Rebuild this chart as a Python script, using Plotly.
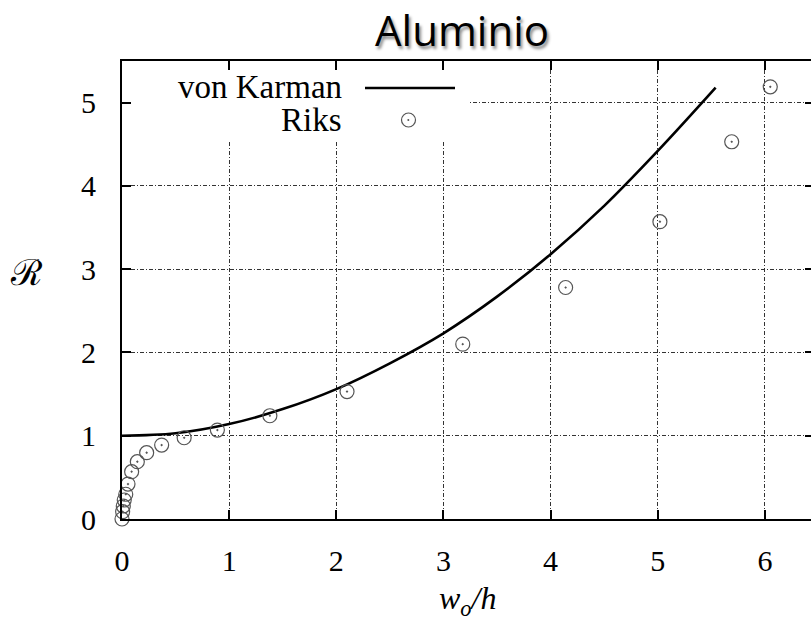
import plotly.graph_objects as go

# von Karman solution curve (R versus w_o/h)
karman_x = [0.0, 0.5, 1.0, 1.5, 2.0, 2.5, 3.0, 3.5, 4.0, 4.5, 5.0, 5.54]
karman_y = [1.0, 1.03, 1.14, 1.32, 1.56, 1.87, 2.23, 2.67, 3.18, 3.76, 4.42, 5.18]

# Riks path-following results
riks_x = [0.0, 0.006, 0.012, 0.021, 0.035, 0.056, 0.09, 0.143, 0.23, 0.37,
          0.58, 0.89, 1.38, 2.10, 3.18, 4.14, 5.02, 5.69, 6.05]
riks_y = [0.0, 0.088, 0.156, 0.228, 0.297, 0.42, 0.568, 0.688, 0.796, 0.888,
          0.976, 1.068, 1.24, 1.53, 2.10, 2.78, 3.57, 4.53, 5.19]

x_ticks = [0, 1, 2, 3, 4, 5, 6]
y_ticks = [0, 1, 2, 3, 4, 5]
X_RANGE = [0, 6.43]
Y_RANGE = [0, 5.5]

W, H = 811, 620
L, R, T, B = 122, 0, 61, 101
PW, PH = W - L - R, H - T - B


def px(xp):
    return (xp - L) / PW


def py(yp):
    return (H - B - yp) / PH


def dx(xp):
    return X_RANGE[0] + px(xp) * (X_RANGE[1] - X_RANGE[0])


def dy(yp):
    return Y_RANGE[0] + py(yp) * (Y_RANGE[1] - Y_RANGE[0])


SERIF = "'Liberation Serif', 'Times New Roman', Times, serif"
GRID = "#333333"

fig = go.Figure()

fig.add_trace(go.Scatter(
    x=karman_x, y=karman_y, mode="lines", name="von Karman",
    line=dict(color="black", width=2.6, shape="spline", smoothing=1.0),
    showlegend=False,
))
fig.add_trace(go.Scatter(
    x=riks_x, y=riks_y, mode="markers", name="Riks",
    marker=dict(symbol="circle-open-dot", size=14, color="#555555",
                line=dict(width=1.2, color="#555555")),
    cliponaxis=False, showlegend=False,
))
# right-hand tick marks
fig.add_trace(go.Scatter(x=[None], y=[None], yaxis="y2", showlegend=False,
                         hoverinfo="skip"))

axis_common = dict(
    showline=True, linecolor="black", linewidth=2,
    ticks="inside", ticklen=9, tickwidth=1.6, tickcolor="black",
    showgrid=True, gridcolor=GRID, gridwidth=1, griddash="4px,2px,1px,2px",
    zeroline=False,
    tickfont=dict(family=SERIF, size=30, color="black"),
)

fig.update_layout(
    width=W, height=H, autosize=False,
    margin=dict(l=L, r=R, t=T, b=B),
    paper_bgcolor="white", plot_bgcolor="white",
    xaxis=dict(range=X_RANGE, tickvals=x_ticks, mirror="ticks",
               ticklabelstandoff=14, **axis_common),
    yaxis=dict(range=Y_RANGE, tickvals=y_ticks, mirror=False,
               ticklabelstandoff=18, **axis_common),
    yaxis2=dict(range=Y_RANGE, tickvals=y_ticks, overlaying="y", side="right",
                ticks="inside", ticklen=6, tickwidth=1.6, tickcolor="black",
                showticklabels=False, showgrid=False, showline=False,
                zeroline=False),
)

# legend panel, laid over the grid but under the data
fig.add_shape(type="rect", xref="x", yref="y", layer="between",
              x0=dx(124), x1=dx(470), y0=dy(140), y1=dy(62),
              fillcolor="white", line=dict(width=0))
fig.add_shape(type="line", xref="paper", yref="paper",
              x0=px(365), x1=px(455), y0=py(88), y1=py(88),
              line=dict(color="black", width=2.6))
fig.add_shape(type="circle", xref="paper", yref="paper",
              x0=px(401.5), x1=px(415.5), y0=py(127), y1=py(113),
              line=dict(color="#555555", width=1.2))
fig.add_shape(type="circle", xref="paper", yref="paper",
              x0=px(407.3), x1=px(409.3), y0=py(121), y1=py(119),
              fillcolor="#555555", line=dict(color="#555555", width=0))

ann = [
    dict(text="von Karman", x=px(344), y=py(87), xanchor="right", yanchor="middle",
         font=dict(family=SERIF, size=33, color="black")),
    dict(text="Riks", x=px(344), y=py(120), xanchor="right", yanchor="middle",
         font=dict(family=SERIF, size=33, color="black")),
    dict(text="Aluminio", x=px(462), y=py(29), xanchor="center", yanchor="middle",
         font=dict(family="Open Sans", size=42, color="black",
                   shadow="2px 3px 3px rgba(0,0,0,0.45)")),
    dict(text="\u211b", x=px(26), y=py(272), xanchor="center", yanchor="middle",
         font=dict(family="'DejaVu Serif', serif", size=36, color="black")),
    dict(text="<i>w</i><sub><i>o</i></sub><i>/h</i>", x=px(468), y=py(600),
         xanchor="center", yanchor="middle",
         font=dict(family=SERIF, size=32, color="black")),
]
for a in ann:
    fig.add_annotation(xref="paper", yref="paper", showarrow=False, **a)

fig.write_html("out.html")
